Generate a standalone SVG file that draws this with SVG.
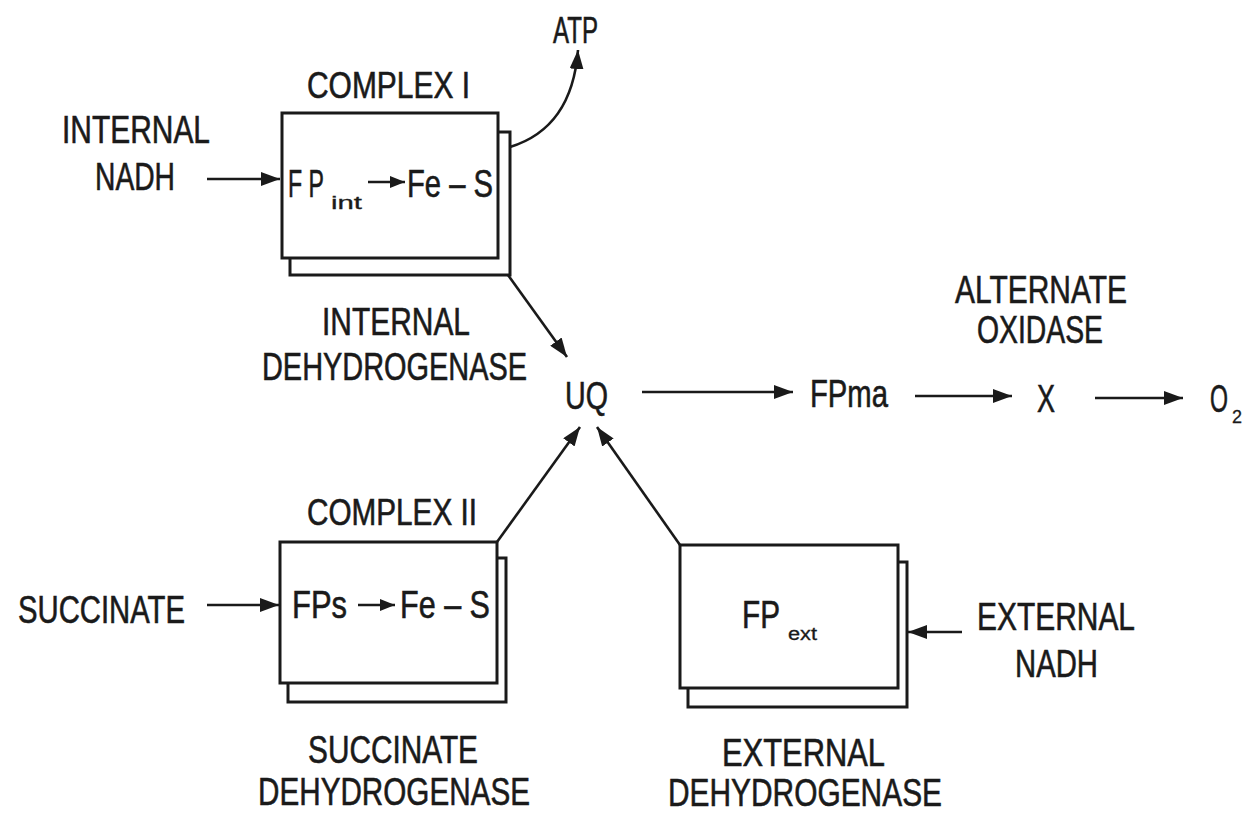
<svg xmlns="http://www.w3.org/2000/svg" width="1249" height="814" viewBox="0 0 1249 814">
<style>
  text { font-family: "Liberation Sans", Arial, sans-serif; fill: #1a1a1a; stroke: #1a1a1a; stroke-width: 0.6; }
  .lbl { font-size: 38px; }
  .mid { font-size: 36px; }
  .sub { font-size: 18px; stroke-width: 0.3; }
  .box { fill: #fff; stroke: #1a1a1a; stroke-width: 3; }
  .con { fill: none; stroke: #1a1a1a; stroke-width: 2.6; }
</style>
<defs>
  <marker id="ah" markerUnits="userSpaceOnUse" markerWidth="20" markerHeight="14" refX="19" refY="7" orient="auto">
    <path d="M0,0 L19,7 L0,14 z" fill="#1a1a1a"/>
  </marker>
  <marker id="ahs" markerUnits="userSpaceOnUse" markerWidth="16" markerHeight="12" refX="15" refY="6" orient="auto">
    <path d="M0,0 L15,6 L0,12 z" fill="#1a1a1a"/>
  </marker>
</defs>
<rect width="1249" height="814" fill="#fff"/>

<g id="complex1">
  <rect class="box" x="290" y="132" width="220" height="143"/>
  <rect class="box" x="282" y="113" width="216" height="145"/>
  <text class="mid" x="307" y="98" textLength="163" lengthAdjust="spacingAndGlyphs">COMPLEX I</text>
  <text class="lbl" x="288" y="197" textLength="36" lengthAdjust="spacingAndGlyphs">F P</text>
  <text class="sub" x="331" y="209" textLength="31" lengthAdjust="spacingAndGlyphs">int</text>
  <line class="con" x1="368" y1="182" x2="405" y2="182" marker-end="url(#ahs)"/>
  <text class="lbl" x="407" y="197" textLength="86" lengthAdjust="spacingAndGlyphs">Fe – S</text>
  <text class="lbl" x="322" y="335" textLength="148" lengthAdjust="spacingAndGlyphs">INTERNAL</text>
  <text class="lbl" x="262" y="380" textLength="265" lengthAdjust="spacingAndGlyphs">DEHYDROGENASE</text>
</g>

<g id="complex2">
  <rect class="box" x="288" y="558" width="218" height="144"/>
  <rect class="box" x="280" y="542" width="217" height="141"/>
  <text class="mid" x="307" y="525" textLength="170" lengthAdjust="spacingAndGlyphs">COMPLEX II</text>
  <text class="lbl" x="292" y="618" textLength="55" lengthAdjust="spacingAndGlyphs">FPs</text>
  <line class="con" x1="358" y1="605" x2="395" y2="605" marker-end="url(#ahs)"/>
  <text class="lbl" x="400" y="618" textLength="90" lengthAdjust="spacingAndGlyphs">Fe – S</text>
  <text class="lbl" x="308" y="763" textLength="170" lengthAdjust="spacingAndGlyphs">SUCCINATE</text>
  <text class="lbl" x="258" y="805" textLength="272" lengthAdjust="spacingAndGlyphs">DEHYDROGENASE</text>
</g>

<g id="external">
  <rect class="box" x="688" y="562" width="219" height="145"/>
  <rect class="box" x="680" y="545" width="218" height="143"/>
  <text class="lbl" x="742" y="628" textLength="38" lengthAdjust="spacingAndGlyphs">FP</text>
  <text class="sub" x="788" y="640" textLength="29" lengthAdjust="spacingAndGlyphs">ext</text>
  <text class="lbl" x="722" y="766" textLength="163" lengthAdjust="spacingAndGlyphs">EXTERNAL</text>
  <text class="lbl" x="668" y="806" textLength="274" lengthAdjust="spacingAndGlyphs">DEHYDROGENASE</text>
</g>

<g id="internal-nadh">
  <text class="lbl" x="62" y="143" textLength="148" lengthAdjust="spacingAndGlyphs">INTERNAL</text>
  <text class="lbl" x="95" y="190" textLength="80" lengthAdjust="spacingAndGlyphs">NADH</text>
</g>
<g id="succinate">
  <text class="lbl" x="18" y="623" textLength="167" lengthAdjust="spacingAndGlyphs">SUCCINATE</text>
</g>
<g id="external-nadh">
  <text class="lbl" x="977" y="630" textLength="158" lengthAdjust="spacingAndGlyphs">EXTERNAL</text>
  <text class="lbl" x="1015" y="677" textLength="83" lengthAdjust="spacingAndGlyphs">NADH</text>
</g>
<g id="atp">
  <text class="mid" x="553" y="43" textLength="45" lengthAdjust="spacingAndGlyphs">ATP</text>
</g>
<g id="uq">
  <text class="lbl" x="565" y="409" textLength="43" lengthAdjust="spacingAndGlyphs">UQ</text>
</g>
<g id="fpma">
  <text class="lbl" x="810" y="407" textLength="78" lengthAdjust="spacingAndGlyphs">FPma</text>
</g>
<g id="x">
  <text class="lbl" x="1037" y="412" textLength="18" lengthAdjust="spacingAndGlyphs">X</text>
  <text class="lbl" x="955" y="303" textLength="172" lengthAdjust="spacingAndGlyphs">ALTERNATE</text>
  <text class="lbl" x="977" y="343" textLength="126" lengthAdjust="spacingAndGlyphs">OXIDASE</text>
</g>
<g id="o2">
  <text class="lbl" x="1210" y="412" textLength="18" lengthAdjust="spacingAndGlyphs">O</text>
  <text class="sub" x="1232" y="423">2</text>
</g>

<g id="connectors">
  <line class="con" x1="207" y1="179" x2="280" y2="179" marker-end="url(#ah)"/>
  <path class="con" d="M510,147 Q572,128 578,50" marker-end="url(#ah)"/>
  <line class="con" x1="508" y1="275" x2="567" y2="357" marker-end="url(#ah)"/>
  <line class="con" x1="642" y1="392" x2="793" y2="392" marker-end="url(#ah)"/>
  <line class="con" x1="915" y1="396" x2="1012" y2="396" marker-end="url(#ah)"/>
  <line class="con" x1="1095" y1="398" x2="1183" y2="398" marker-end="url(#ah)"/>
  <line class="con" x1="207" y1="605" x2="279" y2="605" marker-end="url(#ah)"/>
  <line class="con" x1="497" y1="542" x2="580" y2="427" marker-end="url(#ah)"/>
  <line class="con" x1="680" y1="545" x2="597" y2="427" marker-end="url(#ah)"/>
  <line class="con" x1="962" y1="632" x2="908" y2="632" marker-end="url(#ah)"/>
</g>
</svg>
